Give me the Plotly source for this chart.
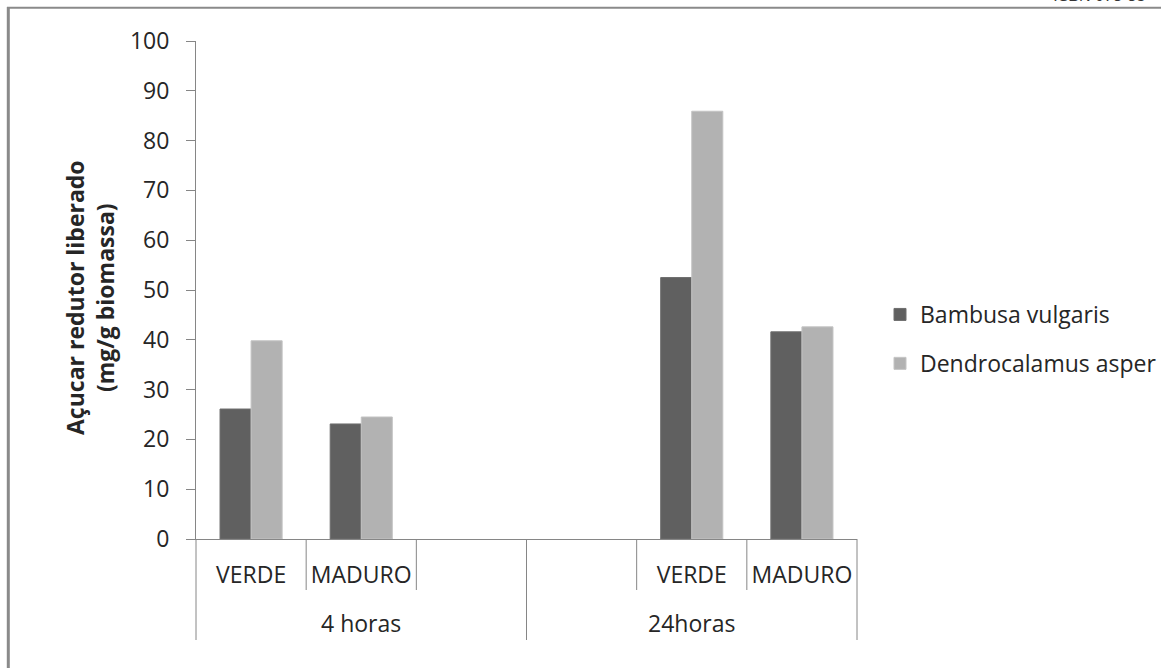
import plotly.graph_objects as go

# ---- data ----
inner_labels = ["VERDE", "MADURO", "", "", "VERDE", "MADURO"]
outer_labels = ["4 horas", "24horas"]
outer_centers = [1, 4]          # category index at the middle of each group
bambusa = [26.1, 23.1, None, None, 52.5, 41.6]
dendro = [39.8, 24.5, None, None, 85.9, 42.6]
series_names = ["Bambusa vulgaris", "Dendrocalamus asper"]
y_ticks = list(range(0, 101, 10))

W, H = 1161, 668
L, R, T, B = 196, 304, 41, 129
PW, PH = W - L - R, H - T - B

def px_x(p):   # pixel -> paper x
    return (p - L) / PW

def px_y(p):   # pixel -> paper y
    return (H - B - p) / PH

FONT = "Open Sans"
TXT = "#262626"
AX = "#868686"
FS = 23

xs = list(range(len(inner_labels)))

fig = go.Figure()
fig.add_trace(go.Bar(x=xs, y=bambusa, name=series_names[0],
                     marker=dict(color="#606060", line=dict(color="#6e6e6e", width=1)),
                     legendgroup="a"))
fig.add_trace(go.Bar(x=xs, y=dendro, name=series_names[1],
                     marker=dict(color="#b2b2b2", line=dict(color="#c4c4c4", width=1)),
                     legendgroup="b"))

shapes = []
n = len(inner_labels)
group_size = n // len(outer_labels)
for i in range(1, n):
    b = i - 0.5
    long_line = (i % group_size == 0)
    shapes.append(dict(type="line", xref="x", yref="paper", x0=b, x1=b,
                       y0=0, y1=px_y(640) if long_line else px_y(590),
                       line=dict(color=AX, width=1)))
for xp in (0, 1):
    shapes.append(dict(type="line", xref="paper", yref="paper", x0=xp, x1=xp,
                       y0=0, y1=px_y(640), line=dict(color=AX, width=1)))
# page frame
shapes.append(dict(type="line", xref="paper", yref="paper", x0=px_x(8.3), x1=px_x(8.3),
                   y0=px_y(7), y1=px_y(700), line=dict(color="#8a8a8a", width=3)))
shapes.append(dict(type="line", xref="paper", yref="paper", x0=px_x(7), x1=px_x(1200),
                   y0=px_y(7.7), y1=px_y(7.7), line=dict(color="#8a8a8a", width=2)))

annotations = []
for lab, c in zip(outer_labels, outer_centers):
    annotations.append(dict(text=lab, x=c, xref="x", y=px_y(623), yref="paper",
                            showarrow=False, xanchor="center", yanchor="middle",
                            font=dict(family=FONT, size=FS, color=TXT)))
annotations.append(dict(text="<b>Açucar redutor liberado<br>(mg/g biomassa)</b>",
                        x=px_x(90), xref="paper", y=px_y(297), yref="paper",
                        textangle=-90, showarrow=False, xanchor="center", yanchor="middle",
                        font=dict(family=FONT, size=23, color=TXT)))
annotations.append(dict(text="ISBN 978-85", x=px_x(1052), xref="paper", y=px_y(6),
                        yref="paper", xanchor="left", yanchor="bottom", showarrow=False,
                        font=dict(family="Liberation Sans", size=16, color="#333333",
                                  style="italic")))

fig.update_layout(
    width=W, height=H, autosize=False,
    margin=dict(l=L, r=R, t=T, b=B, autoexpand=False),
    paper_bgcolor="white", plot_bgcolor="white",
    barmode="group", bargap=0.436, bargroupgap=0,
    font=dict(family=FONT, size=FS, color=TXT),
    showlegend=True,
    legend=dict(x=px_x(880), y=px_y(293), xanchor="left", yanchor="top",
                font=dict(family=FONT, size=FS, color=TXT),
                tracegroupgap=16, bgcolor="rgba(0,0,0,0)"),
    shapes=shapes, annotations=annotations,
)
fig.update_xaxes(range=[-0.5, n - 0.5], tickmode="array", tickvals=xs,
                 ticktext=inner_labels, ticks="", showgrid=False, zeroline=False,
                 showline=True, linecolor=AX, linewidth=1,
                 ticklabelstandoff=15, tickfont=dict(family=FONT, size=FS, color=TXT))
fig.update_yaxes(range=[0, 100], tickmode="array", tickvals=y_ticks,
                 ticks="outside", ticklen=9, tickcolor=AX, showgrid=False,
                 zeroline=False, showline=True, linecolor=AX, linewidth=1,
                 ticklabelstandoff=12, tickfont=dict(family=FONT, size=FS, color=TXT))

fig.write_html(
    "out.html",
    config={"displayModeBar": False, "responsive": False},
    post_script=("document.documentElement.style.overflow='hidden';"
                 "document.body.style.overflow='hidden';"
                 "document.body.style.margin='0';document.body.style.padding='0';"),
)
